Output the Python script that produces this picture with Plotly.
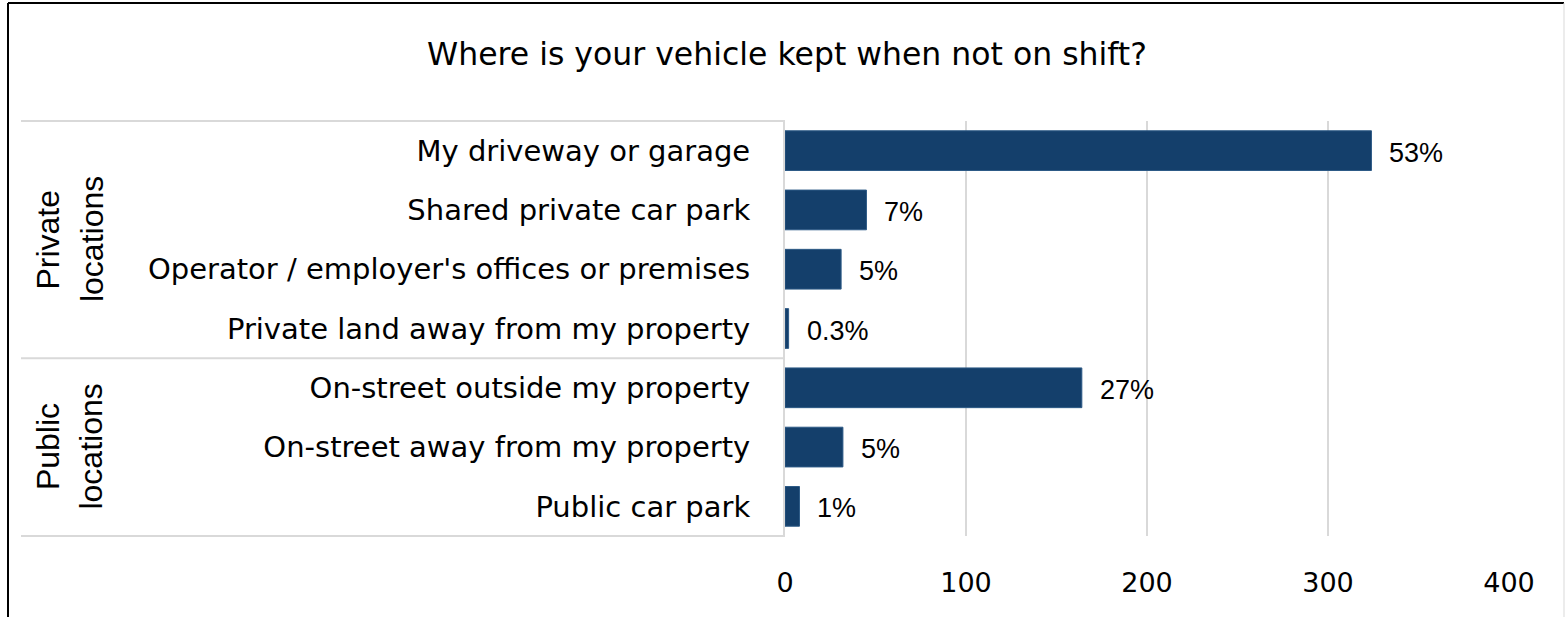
import plotly.graph_objects as go

categories = [
    "My driveway or garage",
    "Shared private car park",
    "Operator / employer's offices or premises",
    "Private land away from my property",
    "On-street outside my property",
    "On-street away from my property",
    "Public car park",
]
counts = [324, 45, 31, 2, 164, 32, 8]
pct_labels = ["53%", "7%", "5%", "0.3%", "27%", "5%", "1%"]
groups = [["Private", "locations"], ["Public", "locations"]]
group_sizes = [4, 3]
x_ticks = [0, 100, 200, 300, 400]

W, H = 1565, 617
L, R, T, B = 785, 1509, 121, 536
FONT = "DejaVu Sans"
NUMFONT = "Liberation Sans"
BAR = "#143F6B"
GRID = "#D9D9D9"


def px(x):
    return (x - L) / (R - L)


def py(y):
    return (B - y) / (B - T)


fig = go.Figure(
    go.Bar(
        x=counts,
        y=categories,
        orientation="h",
        marker=dict(color=BAR, line=dict(color="#2D5A86", width=1)),
        width=0.67,
        hoverinfo="skip",
    )
)

shapes = []
n = len(categories)
row_h = (B - T) / n
bounds = [T]
acc = 0
for g in group_sizes:
    acc += g
    bounds.append(T + acc * row_h)
for yb in bounds:
    shapes.append(dict(type="line", xref="paper", yref="paper",
                       x0=px(21), x1=0, y0=py(yb), y1=py(yb),
                       line=dict(color=GRID, width=2)))
# outer frame
shapes.append(dict(type="line", xref="paper", yref="paper",
                   x0=px(8), x1=px(1564), y0=py(3), y1=py(3),
                   line=dict(color="#000000", width=2)))
shapes.append(dict(type="line", xref="paper", yref="paper",
                   x0=px(8), x1=px(8), y0=py(3), y1=py(620),
                   line=dict(color="#000000", width=2)))
shapes.append(dict(type="line", xref="paper", yref="paper",
                   x0=px(1564), x1=px(1564), y0=py(3), y1=py(620),
                   line=dict(color=GRID, width=1)))

annotations = []
line_x = [48, 91.5]
for i, g in enumerate(groups):
    yc = (bounds[i] + bounds[i + 1]) / 2
    for j, word in enumerate(g):
        annotations.append(dict(
            xref="paper", yref="paper", x=px(line_x[j]), y=py(yc),
            text=word, showarrow=False, textangle=-90,
            font=dict(family=NUMFONT, size=32, color="#000000"),
            xanchor="center", yanchor="middle", align="center",
        ))
# value labels placed through the data axes
for c, v, t in zip(categories, counts, pct_labels):
    annotations.append(dict(
        x=v, y=c, xref="x", yref="y", text=t, showarrow=False,
        xanchor="left", yanchor="middle", xshift=16, yshift=-2,
        font=dict(family=NUMFONT, size=27, color="#000000"),
    ))

fig.update_layout(
    width=W, height=H,
    margin=dict(l=L, r=W - R, t=T, b=H - B, pad=0),
    paper_bgcolor="#FFFFFF", plot_bgcolor="#FFFFFF",
    showlegend=False,
    title=dict(
        text="Where is your vehicle kept when not on shift?",
        x=787 / W, xref="container", xanchor="center",
        y=1 - 54 / H, yref="container", yanchor="middle",
        font=dict(family=FONT, size=31.5, color="#000000"),
    ),
    xaxis=dict(
        range=[0, 400], tickvals=x_ticks, showgrid=True,
        gridcolor=GRID, gridwidth=2, zeroline=False,
        showline=False, ticks="", ticklabelstandoff=28,
        tickfont=dict(family=FONT, size=27, color="#000000"),
    ),
    yaxis=dict(
        autorange="reversed", showgrid=False, ticks="",
        showline=True, linecolor=GRID, linewidth=2,
        ticklabelstandoff=27,
        tickfont=dict(family=FONT, size=29, color="#000000"),
    ),
    shapes=shapes,
    annotations=annotations,
    font=dict(family=FONT),
)

fig.write_html("out.html", config={"displayModeBar": False},
               post_script="document.body.style.margin='0';")
